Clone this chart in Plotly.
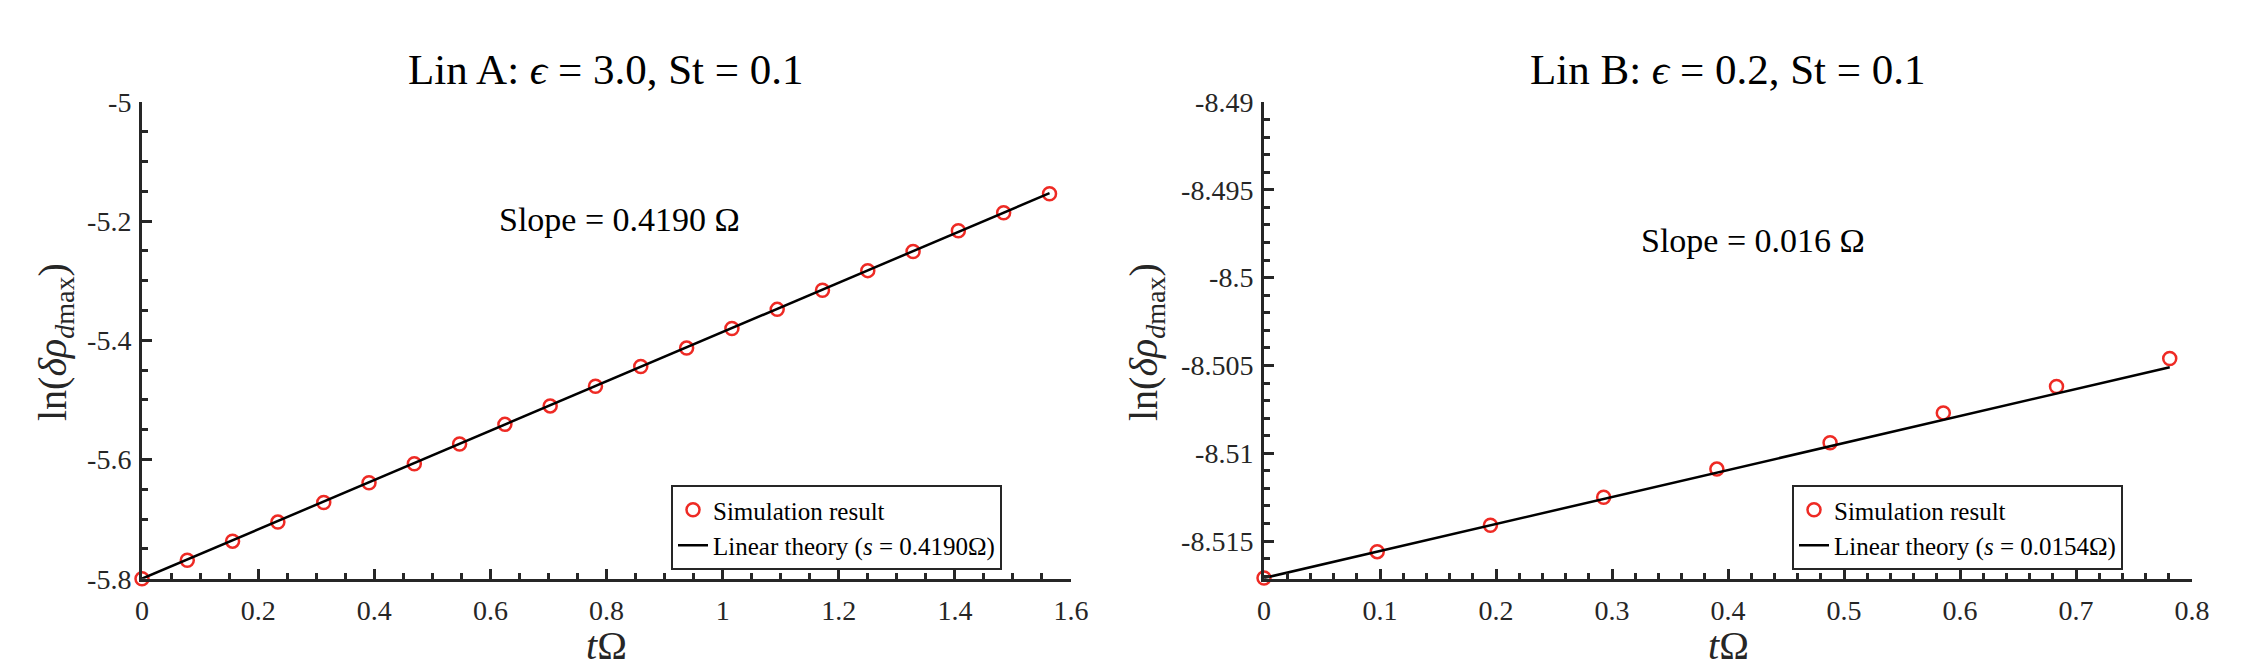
import plotly.graph_objects as go

# ---- Lin A (left panel) ----
lin_a_t = [0, 0.078, 0.156, 0.234, 0.313, 0.391, 0.469, 0.547, 0.625, 0.703, 0.781,
           0.859, 0.938, 1.016, 1.094, 1.172, 1.25, 1.328, 1.406, 1.484, 1.563]
lin_a_sim = [-5.800, -5.769, -5.737, -5.705, -5.672, -5.639, -5.607, -5.574, -5.541, -5.510, -5.477,
             -5.444, -5.413, -5.380, -5.348, -5.316, -5.283, -5.251, -5.216, -5.186, -5.154]
lin_a_theory_t = [0, 1.563]
lin_a_theory_y = [-5.800, -5.153]
lin_a_yticks = [-5.8, -5.6, -5.4, -5.2, -5.0]
lin_a_yticktext = ["-5.8", "-5.6", "-5.4", "-5.2", "-5"]

# ---- Lin B (right panel) ----
lin_b_t = [0, 0.0976, 0.1952, 0.2928, 0.3904, 0.488, 0.5856, 0.6832, 0.7808]
lin_b_sim = [-8.5171, -8.5156, -8.5141, -8.5125, -8.5109, -8.5094, -8.5077, -8.5062, -8.5046]
lin_b_theory_t = [0, 0.7808]
lin_b_theory_y = [-8.5171, -8.5051]
lin_b_yticks = [-8.515, -8.51, -8.505, -8.5, -8.495, -8.49]
lin_b_yticktext = ["-8.515", "-8.51", "-8.505", "-8.5", "-8.495", "-8.49"]

AX = "#262626"
RED = "#ee2a24"
SERIF = "Liberation Serif, Times New Roman, serif"
W, H = 2244, 670


def px_x(p):
    return p / W


def px_y(p):
    return 1 - p / H


fig = go.Figure()

marker = dict(symbol="circle-open", size=13, color=RED, line=dict(width=2.5, color=RED))

fig.add_trace(go.Scatter(x=lin_a_t, y=lin_a_sim, mode="markers", marker=marker,
                         name="Simulation result", legend="legend", xaxis="x", yaxis="y",
                         cliponaxis=False))
fig.add_trace(go.Scatter(x=lin_a_theory_t, y=lin_a_theory_y, mode="lines",
                         line=dict(color="black", width=2.5),
                         name="Linear theory (<i>s</i> = 0.4190Ω)", legend="legend",
                         xaxis="x", yaxis="y", cliponaxis=False))
fig.add_trace(go.Scatter(x=lin_b_t, y=lin_b_sim, mode="markers", marker=marker,
                         name="Simulation result", legend="legend2", xaxis="x2", yaxis="y2",
                         cliponaxis=False))
fig.add_trace(go.Scatter(x=lin_b_theory_t, y=lin_b_theory_y, mode="lines",
                         line=dict(color="black", width=2.5),
                         name="Linear theory (<i>s</i> = 0.0154Ω)", legend="legend2",
                         xaxis="x2", yaxis="y2", cliponaxis=False))

tickfont = dict(family=SERIF, size=28, color=AX)
common = dict(showline=True, linecolor=AX, linewidth=3, showgrid=False, zeroline=False,
              ticks="inside", ticklen=10, tickwidth=2.5, tickcolor=AX, tickfont=tickfont,
              automargin=False)
minor_style = dict(ticks="inside", ticklen=6, tickwidth=2.5, tickcolor=AX)

y_dom = [px_y(570.7), px_y(94)]

legend_style = dict(yanchor="top", xanchor="left", bgcolor="white", bordercolor=AX,
                    borderwidth=2, font=dict(family=SERIF, size=25, color="black"),
                    itemwidth=30, tracegroupgap=0)

fig.update_layout(
    width=W, height=H,
    margin=dict(l=0, r=0, t=0, b=0),
    paper_bgcolor="white", plot_bgcolor="white",
    showlegend=True,
    xaxis=dict(domain=[px_x(134), px_x(1063)], range=[0, 1.6], dtick=0.2, tick0=0,
               anchor="y", ticklabelstandoff=5,
               minor=dict(dtick=0.05, tick0=0, **minor_style), **common),
    yaxis=dict(domain=y_dom, range=[-5.8, -5.0], tickmode="array", tickvals=lin_a_yticks,
               ticktext=lin_a_yticktext, anchor="x", ticklabelstandoff=2,
               minor=dict(dtick=0.05, tick0=-5, **minor_style), **common),
    xaxis2=dict(domain=[px_x(1256), px_x(2184)], range=[0, 0.8], dtick=0.1, tick0=0,
                anchor="y2", ticklabelstandoff=5,
                minor=dict(dtick=0.02, tick0=0, **minor_style), **common),
    yaxis2=dict(domain=y_dom, range=[-8.51714, -8.49], tickmode="array", tickvals=lin_b_yticks,
                ticktext=lin_b_yticktext, anchor="x2", ticklabelstandoff=2,
                minor=dict(dtick=0.001, tick0=-8.49, **minor_style), **common),
    legend=dict(x=px_x(663), y=px_y(477), **legend_style),
    legend2=dict(x=px_x(1784), y=px_y(477), **legend_style),
)

titles = [
    ("Lin A: <i>ϵ</i> = 3.0, St = 0.1", 598),
    ("Lin B: <i>ϵ</i> = 0.2, St = 0.1", 1720),
]
for text, cx in titles:
    fig.add_annotation(text=text, x=px_x(cx), y=px_y(62), xref="paper", yref="paper",
                       xanchor="center", yanchor="middle", showarrow=False,
                       font=dict(family=SERIF, size=43, color="black"))

for cx in (598, 1720):
    fig.add_annotation(text="<i>t</i>Ω", x=px_x(cx), y=px_y(637), xref="paper", yref="paper",
                       xanchor="center", yanchor="middle", showarrow=False,
                       font=dict(family=SERIF, size=40, color=AX))

for cx in (47, 1138):
    fig.add_annotation(text="ln(<i>δρ</i><sub><i>d</i>max</sub>)", x=px_x(cx), y=px_y(334),
                       xref="paper", yref="paper", xanchor="center", yanchor="middle",
                       textangle=-90, showarrow=False,
                       font=dict(family=SERIF, size=40, color=AX))

fig.add_annotation(text="Slope = 0.4190 Ω", x=0.8216, y=-5.197, xref="x", yref="y",
                   showarrow=False, font=dict(family=SERIF, size=34, color="black"))
fig.add_annotation(text="Slope = 0.016 Ω", x=0.4216, y=-8.4979, xref="x2", yref="y2",
                   showarrow=False, font=dict(family=SERIF, size=34, color="black"))

fig.write_html("out.html")
